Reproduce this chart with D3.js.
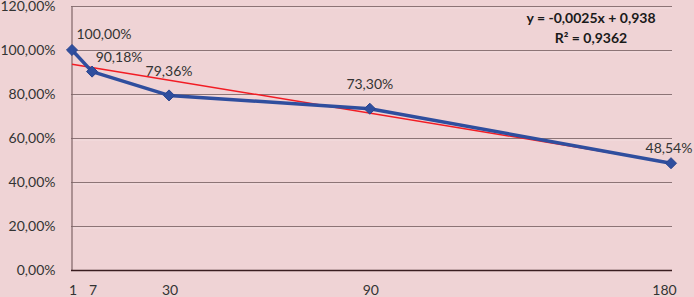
<!DOCTYPE html>
<html><head><meta charset="utf-8">
<script src="https://cdn.jsdelivr.net/npm/d3@7"></script>
<style>html,body{margin:0;padding:0;background:#efd3d5;}svg{display:block;}</style>
</head><body>
<svg id="c" width="694" height="297"></svg>
<script>
const days = [1, 7, 30, 90, 180];
const values = [1.0, 0.9018, 0.7936, 0.7330, 0.4854];
const valueLabels = ["100,00%", "90,18%", "79,36%", "73,30%", "48,54%"];
const yTicks = [0, 0.2, 0.4, 0.6, 0.8, 1.0, 1.2];
const xTickLabels = ["1", "7", "30", "90", "180"];
const trendSlope = -0.0025, trendIntercept = 0.938;
const equationLines = ["y = -0,0025x + 0,938", "R² = 0,9362"];

// label layout nudges (pixels) — layout only
const labelDx = [32, 27, 0, 0, -2];
const labelDy = [-11, -10, -19, -20, -10];

const svg = d3.select("#c");
const font = "Lato, 'Open Sans', sans-serif";
const x = d3.scaleLinear().domain([1, 180]).range([72, 671]);
const y = d3.scaleLinear().domain([0, 1.2]).range([270, 6]);

// gridlines
const g = svg.append("g");
yTicks.filter(t => t > 0).forEach(t => {
  g.append("line").attr("x1", 71).attr("x2", 672).attr("y1", y(t) + 2).attr("y2", y(t) + 2)
    .attr("stroke", "#fff").attr("stroke-opacity", 0.25).attr("stroke-width", 1);
  g.append("line").attr("x1", 71).attr("x2", 672).attr("y1", y(t) + 0.5).attr("y2", y(t) + 0.5)
    .attr("stroke", "#8c7476").attr("stroke-width", 1);
});

// y axis
const yAxis = d3.axisLeft(y).tickValues(yTicks).tickSize(0).tickPadding(16)
  .tickFormat(d => d3.format(".2f")(d * 100).replace(".", ",") + "%");
svg.append("g").attr("transform", "translate(71.5,0)").call(yAxis)
  .call(s => s.select(".domain").attr("stroke", "#7e6466").attr("stroke-width", 1.2))
  .call(s => s.selectAll("text").attr("font-family", font).attr("font-size", 14).attr("fill", "#333"));

// x axis
const xAxis = d3.axisBottom(x).tickValues(days).tickSize(0).tickPadding(15)
  .tickFormat((d, i) => xTickLabels[i]);
svg.append("g").attr("transform", "translate(0,270.5)").call(xAxis)
  .call(s => s.select(".domain").attr("stroke", "#3a1d20").attr("stroke-width", 1.3).attr("d", "M71,0H672"))
  .call(s => s.selectAll("text").attr("font-family", font).attr("font-size", 14).attr("fill", "#333")
    .attr("dx", (d, i) => i === days.length - 1 ? -7 : 0.5));

// trendline
svg.append("line")
  .attr("x1", x(1)).attr("y1", y(trendSlope * 1 + trendIntercept))
  .attr("x2", x(180)).attr("y2", y(trendSlope * 180 + trendIntercept))
  .attr("stroke", "#f21c24").attr("stroke-width", 1.5);

// series line
const data = days.map((d, i) => ({d, v: values[i], label: valueLabels[i], i}));
svg.append("path").datum(data)
  .attr("d", d3.line().x(p => x(p.d)).y(p => y(p.v)))
  .attr("fill", "none").attr("stroke", "#2f4e9e").attr("stroke-width", 3.5).attr("stroke-linejoin", "round");

// markers
svg.selectAll(".m").data(data).join("path")
  .attr("transform", p => `translate(${x(p.d)},${y(p.v)})`)
  .attr("d", d3.symbol().type(d3.symbolDiamond2).size(78))
  .attr("fill", "#2f4e9e").attr("stroke", "#28448f").attr("stroke-width", 1);

// data labels
svg.selectAll(".lbl").data(data).join("text")
  .attr("x", p => x(p.d) + labelDx[p.i]).attr("y", p => y(p.v) + labelDy[p.i])
  .attr("text-anchor", "middle").attr("font-family", font).attr("font-size", 14).attr("fill", "#333")
  .text(p => p.label);

// equation
svg.selectAll(".eq").data(equationLines).join("text")
  .attr("x", 591).attr("y", (d, i) => 23 + i * 20)
  .attr("text-anchor", "middle").attr("font-family", font).attr("font-size", 14)
  .attr("font-weight", "bold").attr("fill", "#1a1a1a")
  .text(d => d);
</script>
</body></html>
